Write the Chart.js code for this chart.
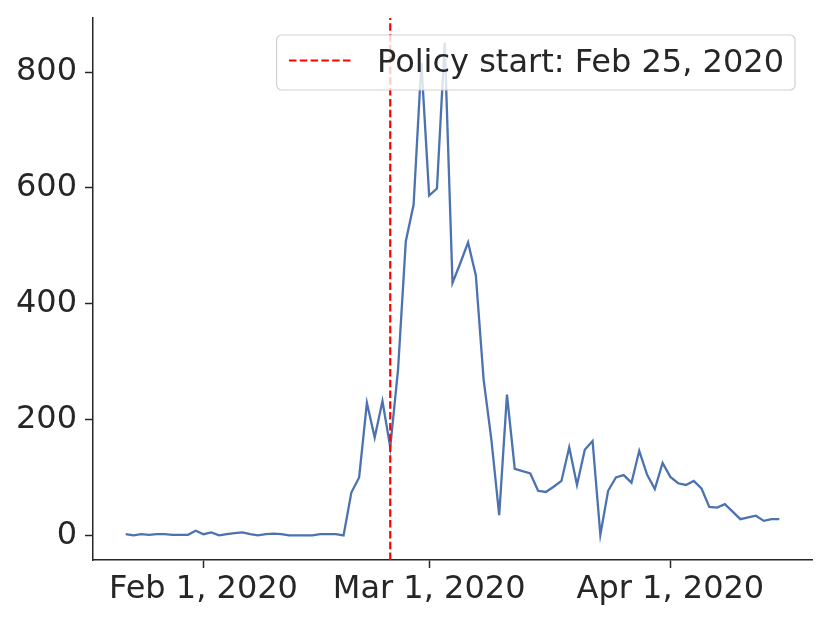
<!DOCTYPE html>
<html><head><meta charset="utf-8">
<script src="https://cdn.jsdelivr.net/npm/chart.js@4.4.0/dist/chart.umd.min.js"></script>
<style>html,body{margin:0;padding:0;background:#fff}#wrap{width:830px;height:623px}</style>
</head><body><div id="wrap"><canvas id="c" width="830" height="623"></canvas></div>
<script>
// ---- data ----
const startDate = "2020-01-22";
const values = [
  2,0,2,1,2,2,1,1,1,8,
  2,5,0,2,4,5,2,0,2,3,2,0,0,0,0,2,2,2,0,74,100,229,169,232,152,286,508,571,816,
  587,599,851,436,470,506,449,269,165,35,243,115,111,107,77,75,84,94,152,87,148,163,1,77,100,104,91,146,105,80,125,
  101,90,87,94,81,49,48,54,41,28,31,34,25,28,28
];
const tickDates = ["2020-02-01","2020-03-01","2020-04-01"];
const tickLabels = ["Feb 1, 2020","Mar 1, 2020","Apr 1, 2020"];
const yTicks = [0,200,400,600,800];
const policyDate = "2020-02-25";
const policyLabel = "Policy start: Feb 25, 2020";

// ---- helpers ----
const DAY = 86400000;
const dayIndex = d => Math.round((Date.parse(d) - Date.parse(startDate)) / DAY);
const n = values.length;
const xMin = -0.05 * (n - 1), xMax = (n - 1) * 1.05;
const vMax = Math.max(...values), vMin = Math.min(...values);
const yMin = vMin - 0.05 * (vMax - vMin), yMax = vMax + 0.05 * (vMax - vMin);
const pIdx = dayIndex(policyDate);

const FONT = {family: "'DejaVu Sans', sans-serif", size: 32, lineHeight: 1.0};
const INK = '#262626';

const legendPlugin = {
  id: 'boxLegend',
  afterDatasetsDraw(chart) {
    const ctx = chart.ctx, ca = chart.chartArea;
    const fs = FONT.size;
    ctx.save();
    ctx.font = fs + "px 'DejaVu Sans', sans-serif";
    const tw = ctx.measureText(policyLabel).width;
    const padL = 12.4, padR = 11, hl = 64, htp = 24;
    const w = padL + hl + htp + tw + padR;
    const h = 55;
    const right = ca.right - 17, top = ca.top + 17;
    const left = right - w;
    ctx.beginPath();
    ctx.roundRect(left, top, w, h, 5);
    ctx.fillStyle = 'rgba(255,255,255,0.8)';
    ctx.fill();
    ctx.lineWidth = 1.2;
    ctx.strokeStyle = 'rgba(204,204,204,0.9)';
    ctx.stroke();
    const cy = top + h / 2;
    ctx.beginPath();
    ctx.setLineDash([7.5, 3.3]);
    ctx.strokeStyle = 'red';
    ctx.lineWidth = 2.2;
    ctx.moveTo(left + padL, cy - 2);
    ctx.lineTo(left + padL + hl, cy - 2);
    ctx.stroke();
    ctx.setLineDash([]);
    ctx.fillStyle = INK;
    ctx.textBaseline = 'middle';
    ctx.textAlign = 'left';
    ctx.fillText(policyLabel, left + padL + hl + htp, cy + 1);
    ctx.restore();
  }
};

new Chart(document.getElementById('c'), {
  type: 'line',
  data: {
    datasets: [
      {
        label: policyLabel,
        data: [{x: pIdx, y: yMin}, {x: pIdx, y: yMax}],
        borderColor: 'red', borderWidth: 2.2, borderDash: [7.5, 3.3],
        pointRadius: 0, order: 0
      },
      {
        label: 'values',
        data: values.map((v, i) => ({x: i, y: v})),
        borderColor: '#4c72b0', borderWidth: 2.3,
        pointRadius: 0, tension: 0, order: 1
      }
    ]
  },
  options: {
    responsive: false, devicePixelRatio: 1, animation: false,
    layout: {padding: {top: 18, right: 18, left: 0, bottom: 0}},
    plugins: {legend: {display: false}, tooltip: {enabled: false}},
    scales: {
      x: {
        type: 'linear', position: 'bottom', min: xMin, max: xMax,
        afterBuildTicks: s => { s.ticks = tickDates.map(d => ({value: dayIndex(d)})); },
        afterFit: s => { s.height = 63; s.paddingLeft = 0; s.paddingRight = 0; },
        ticks: {
          callback: (v, i) => tickLabels[i], font: FONT, color: INK,
          padding: 6, maxRotation: 0, autoSkip: false
        },
        grid: {drawOnChartArea: false, drawTicks: true, tickLength: 8, tickWidth: 1.5, tickColor: INK},
        border: {display: true, color: INK, width: 1.5}
      },
      y: {
        type: 'linear', min: yMin, max: yMax,
        afterBuildTicks: s => { s.ticks = yTicks.map(v => ({value: v})); },
        afterFit: s => { s.width = 93; s.paddingTop = 0; s.paddingBottom = 0; },
        ticks: {callback: v => String(v), font: FONT, color: INK, padding: 8},
        grid: {drawOnChartArea: false, drawTicks: true, tickLength: 8, tickWidth: 1.5, tickColor: INK},
        border: {display: true, color: INK, width: 1.5}
      }
    }
  },
  plugins: [legendPlugin]
});
</script>
</body></html>
